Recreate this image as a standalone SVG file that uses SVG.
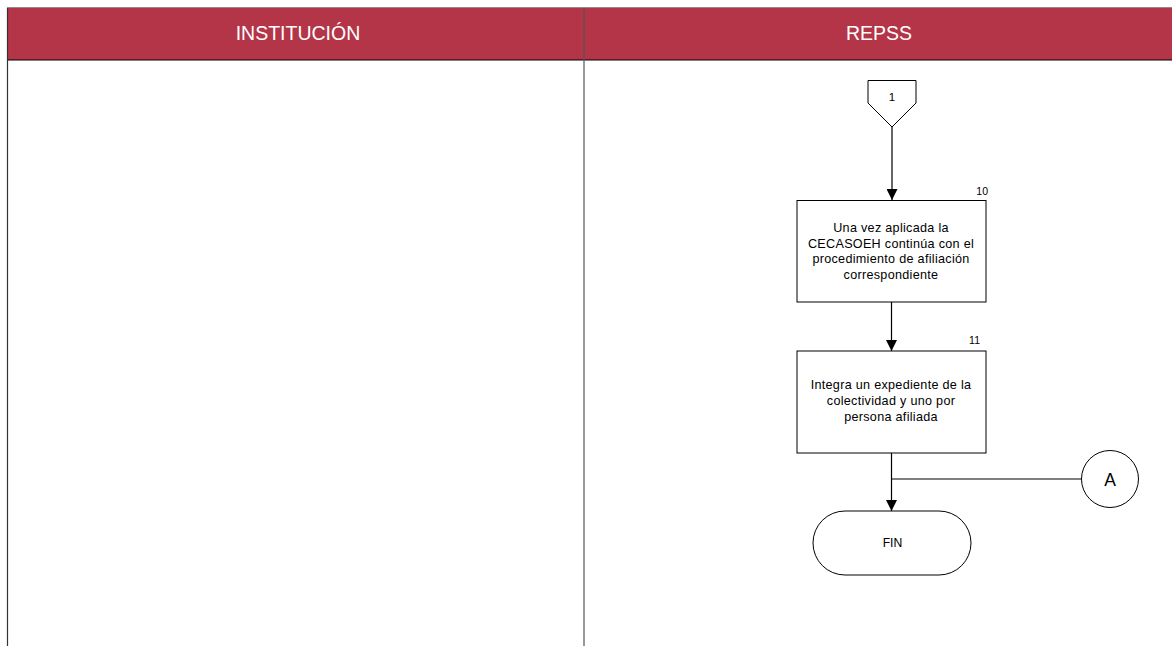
<svg xmlns="http://www.w3.org/2000/svg" width="1172" height="646" viewBox="0 0 1172 646">
  <style>
    .lane-head { fill: #b43547; }
    .lane-title { font-family: "Liberation Sans", Arial, sans-serif; font-size: 19.5px; fill: #ffffff; text-anchor: middle; }
    .shape { fill: #ffffff; stroke: #000000; stroke-width: 1; }
    .label { font-family: "Liberation Sans", Arial, sans-serif; font-size: 12.6px; letter-spacing: 0.3px; fill: #000000; text-anchor: middle; }
    .num { font-family: "Liberation Sans", Arial, sans-serif; font-size: 10.5px; fill: #000000; text-anchor: end; }
    .conn { fill: none; stroke: #000000; stroke-width: 1.2; }
  </style>
  <defs>
    <marker id="arrow" viewBox="0 0 12 11" refX="11" refY="5.5" markerWidth="12" markerHeight="11" markerUnits="userSpaceOnUse" orient="auto">
      <path d="M0,0 L11,5.5 L0,11 z" fill="#000000"/>
    </marker>
  </defs>

  <rect width="1172" height="646" fill="#ffffff"/>

  <!-- swimlanes -->
  <g id="lanes">
    <rect class="lane-head" x="7" y="8" width="1165" height="52"/>
    <line x1="7" y1="7.5" x2="1172" y2="7.5" stroke="#8c8c8c" stroke-width="1"/>
    <line x1="7" y1="60" x2="1172" y2="60" stroke="#000000" stroke-width="1"/>
    <line x1="7.5" y1="8" x2="7.5" y2="646" stroke="#333333" stroke-width="1.2"/>
    <line x1="584" y1="8" x2="584" y2="646" stroke="#555555" stroke-width="1.2"/>
    <text class="lane-title" x="298" y="39.5">INSTITUCIÓN</text>
    <text class="lane-title" x="879" y="39.5">REPSS</text>
  </g>

  <!-- connectors -->
  <g id="connectors">
    <line class="conn" x1="892" y1="127" x2="892" y2="200" marker-end="url(#arrow)"/>
    <line class="conn" x1="891.5" y1="302" x2="891.5" y2="351" marker-end="url(#arrow)"/>
    <line class="conn" x1="891.5" y1="453" x2="891.5" y2="511" marker-end="url(#arrow)"/>
    <polyline class="conn" points="1082,479 892,479"/>
  </g>

  <!-- off-page connector 1 -->
  <g id="node-off-page-1">
    <polygon class="shape" points="868,80.5 916,80.5 916,103 892,127 868,103"/>
    <text class="label" x="892" y="101" style="font-size:11.5px;letter-spacing:0">1</text>
  </g>

  <!-- activity 10 -->
  <g id="node-10">
    <rect class="shape" x="797" y="200.5" width="189" height="101.5"/>
    <text class="num" x="988" y="195">10</text>
    <text class="label" x="891" y="232">Una vez aplicada la</text>
    <text class="label" x="891" y="247.5">CECASOEH continúa con el</text>
    <text class="label" x="891" y="263">procedimiento de afiliación</text>
    <text class="label" x="891" y="278.5">correspondiente</text>
  </g>

  <!-- activity 11 -->
  <g id="node-11">
    <rect class="shape" x="797" y="351" width="189" height="102"/>
    <text class="num" x="980" y="344">11</text>
    <text class="label" x="891" y="389">Integra un expediente de la</text>
    <text class="label" x="891" y="405">colectividad y uno por</text>
    <text class="label" x="891" y="421">persona afiliada</text>
  </g>

  <!-- on-page connector A -->
  <g id="node-A">
    <circle class="shape" cx="1110" cy="479" r="28.5"/>
    <text class="label" x="1110" y="485.5" style="font-size:17.5px;letter-spacing:0">A</text>
  </g>

  <!-- terminator -->
  <g id="node-fin">
    <rect class="shape" x="813" y="511" width="158" height="64" rx="32" ry="32"/>
    <text class="label" x="892.5" y="547" style="font-size:12.2px;letter-spacing:0">FIN</text>
  </g>
</svg>
